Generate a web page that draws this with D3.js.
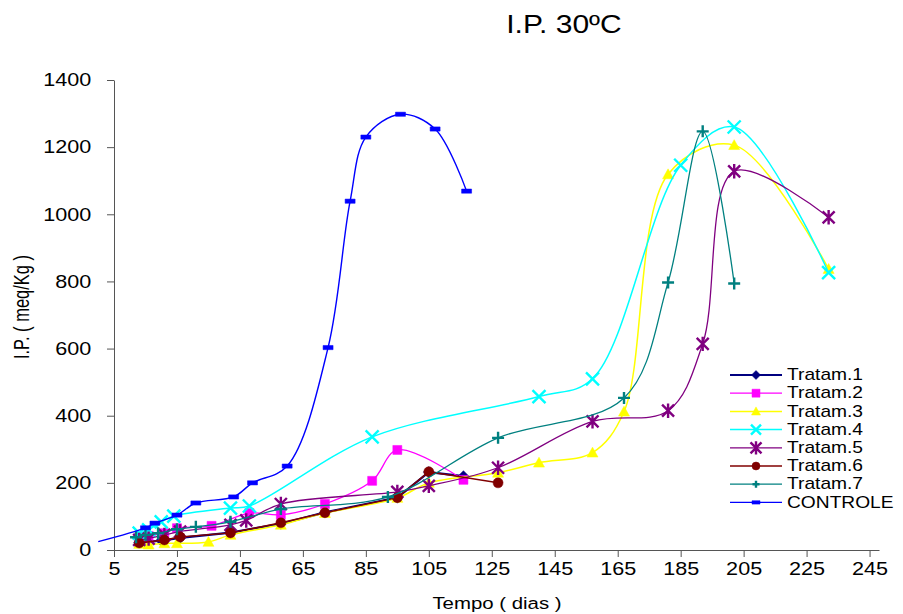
<!DOCTYPE html>
<html>
<head>
<meta charset="utf-8">
<script src="https://cdn.jsdelivr.net/npm/d3@7"></script>
<style>
    body { margin: 0; background: #fff; }
    text { font-family: "Liberation Sans", Arial, sans-serif; fill: #000; }
</style>
</head>
<body>
<div id="chart"></div>
<script>
// tick labels
const dayTicks = [5, 25, 45, 65, 85, 105, 125, 145, 165, 185, 205, 225, 245];
const ipTicks = [0, 200, 400, 600, 800, 1000, 1200, 1400];

// series values (day, I.P.)
const t1Days = [13, 20, 26, 42, 58, 72, 95, 105, 116];
const t1Vals = [22, 28, 36, 52, 78, 112, 156, 232, 220];
const t2Days = [13, 16, 21, 25, 36, 48, 58, 72, 87, 95, 116];
const t2Vals = [35, 42, 50, 65, 72, 110, 105, 137, 206, 298, 209];
const t3Days = [13, 16, 21, 25, 35, 42, 58, 72, 95, 105, 127, 140, 157, 167, 181, 202, 232];
const t3Vals = [18, 16, 20, 20, 24, 45, 75, 110, 155, 200, 230, 260, 290, 412, 1119, 1206, 837];
const t4Days = [13, 16, 20, 24, 42, 48, 87, 140, 157, 185, 202, 232];
const t4Vals = [50, 60, 84, 101, 125, 131, 337, 457, 510, 1146, 1260, 826];
const t5Days = [13, 16, 21, 26, 42, 47, 58, 95, 105, 127, 157, 181, 192, 202, 232];
const t5Vals = [30, 34, 45, 55, 75, 88, 137, 173, 191, 245, 383, 415, 614, 1128, 991];
const t6Days = [13, 21, 26, 42, 58, 72, 95, 105, 127];
const t6Vals = [21, 30, 39, 51, 81, 111, 156, 233, 200];
const t7Days = [12, 15, 19, 25, 31, 42, 58, 92, 127, 167, 181, 192, 202];
const t7Vals = [38, 45, 50, 62, 69, 84, 122, 158, 334, 453, 797, 1247, 794];
const ctDays = [0, 15, 18, 25, 31, 43, 49, 60, 73, 80, 85, 96, 107, 117];
const ctVals = [25, 66, 80, 104, 140, 158, 200, 250, 603, 1039, 1230, 1298, 1254, 1069];

const seriesNames = ["Tratam.1", "Tratam.2", "Tratam.3", "Tratam.4", "Tratam.5", "Tratam.6", "Tratam.7", "CONTROLE"];

const zip = (ds, vs) => ds.map((d, i) => ({ day: d, ip: vs[i] }));

const series = [
    { name: seriesNames[0], data: zip(t1Days, t1Vals), color: "#000080", marker: "diamond", smooth: false, lw: 2.2 },
    { name: seriesNames[1], data: zip(t2Days, t2Vals), color: "#ff00ff", marker: "square", smooth: true, lw: 1.3 },
    { name: seriesNames[2], data: zip(t3Days, t3Vals), color: "#ffff00", marker: "triangle", smooth: true, lw: 1.5 },
    { name: seriesNames[3], data: zip(t4Days, t4Vals), color: "#00ffff", marker: "x", smooth: true, lw: 1.5 },
    { name: seriesNames[4], data: zip(t5Days, t5Vals), color: "#800080", marker: "star", smooth: true, lw: 1.3 },
    { name: seriesNames[5], data: zip(t6Days, t6Vals), color: "#800000", marker: "circle", smooth: false, lw: 1.5 },
    { name: seriesNames[6], data: zip(t7Days, t7Vals), color: "#008080", marker: "plus", smooth: true, lw: 1.3 },
    { name: seriesNames[7], data: zip(ctDays, ctVals), color: "#0000ff", marker: "dash", smooth: true, lw: 1.4 }
];

const margin = { top: 80, right: 24, bottom: 64, left: 114 };
const width = 765;
const height = 470;
const sx = 1.2; // the original text is stretched sideways

const x = d3.scaleLinear().domain([5, 248]).range([0, width]);
const y = d3.scaleLinear().domain([0, 1400]).range([height, 0]);

const svg = d3.select("#chart").append("svg")
    .attr("width", 903)
    .attr("height", 614)
    .append("g")
    .attr("transform", "translate(" + margin.left + "," + margin.top + ")");

function markerPath(type, s) {
    switch (type) {
        case "diamond": return `M0,${-s}L${s},0L0,${s}L${-s},0Z`;
        case "square": return `M${-s},${-s}H${s}V${s}H${-s}Z`;
        case "triangle": return `M0,${-s}L${s},${s * 0.8}L${-s},${s * 0.8}Z`;
        case "circle": return `M${s},0A${s},${s} 0 1,1 ${-s},0A${s},${s} 0 1,1 ${s},0Z`;
        case "x": return `M${-s},${-s}L${s},${s}M${-s},${s}L${s},${-s}`;
        case "star": return `M${-s},${-s}L${s},${s}M${-s},${s}L${s},${-s}M0,${-s * 1.2}V${s * 1.2}`;
        case "plus": return `M${-s},0H${s}M0,${-s}V${s}`;
        case "dash": return `M${-s},${-s * 0.42}H${s}V${s * 0.42}H${-s}Z`;
    }
}
const strokeMarkers = ["x", "star", "plus"];
const markerSize = { diamond: 5.5, square: 4.5, triangle: 5.5, circle: 5, x: 6.5, star: 6, plus: 6, dash: 5 };
const legendSize = { diamond: 4.5, square: 4, triangle: 4.5, circle: 4, x: 5, star: 5.5, plus: 3.5, dash: 4 };

function styleMarker(sel, s) {
    const filled = !strokeMarkers.includes(s.marker);
    sel.attr("fill", filled ? s.color : "none")
        .attr("stroke", s.color)
        .attr("stroke-width", filled ? 0.5 : 2.4);
}

// X axis
svg.append("g")
    .attr("class", "x axis")
    .attr("transform", `translate(0,${height})`)
    .call(d3.axisBottom(x).tickValues(dayTicks).tickSize(7).tickSizeOuter(0).tickPadding(5))
    .call(g => g.selectAll("path, line").attr("stroke", "#555"))
    .call(g => g.selectAll("text")
        .attr("font-family", "Liberation Sans, Arial, sans-serif")
        .attr("font-size", 18)
        .attr("transform", `scale(${sx},1)`));

// Y axis
svg.append("g")
    .attr("class", "y axis")
    .call(d3.axisLeft(y).tickValues(ipTicks).tickFormat(d3.format("d")).tickSize(7).tickSizeOuter(0).tickPadding(12))
    .call(g => g.selectAll("path, line").attr("stroke", "#555"))
    .call(g => g.selectAll("text")
        .attr("font-family", "Liberation Sans, Arial, sans-serif")
        .attr("font-size", 18)
        .attr("transform", `scale(${sx},1)`));

// Lines and markers
series.forEach(s => {
    const line = d3.line()
        .x(d => x(d.day))
        .y(d => y(d.ip))
        .curve(s.smooth ? d3.curveCatmullRom.alpha(0.5) : d3.curveLinear);

    svg.append("path")
        .datum(s.data)
        .attr("fill", "none")
        .attr("stroke", s.color)
        .attr("stroke-width", s.lw)
        .attr("d", line);

    svg.append("g")
        .selectAll("path")
        .data(s.data.filter(d => d.day >= x.domain()[0]))
        .enter().append("path")
        .attr("transform", d => `translate(${x(d.day)},${y(d.ip)})`)
        .attr("d", markerPath(s.marker, markerSize[s.marker]))
        .call(styleMarker, s);
});

// Chart title
svg.append("text")
    .attr("transform", `translate(${564 - margin.left},${33 - margin.top}) scale(${sx},1)`)
    .attr("text-anchor", "middle")
    .style("font-size", "25px")
    .text("I.P. 30ºC");

// X axis title label
svg.append("text")
    .attr("transform", `translate(${497 - margin.left},${height + 59}) scale(${sx},1)`)
    .attr("text-anchor", "middle")
    .style("font-size", "17px")
    .text("Tempo ( dias )");

// Y axis title label
svg.append("text")
    .attr("transform", `translate(${21 - margin.left},${height / 2 - 8}) rotate(-90) scale(1,1.35)`)
    .attr("text-anchor", "middle")
    .attr("dy", "0.35em")
    .style("font-size", "16.5px")
    .text("I.P. ( meq/Kg )");

// Legend
const legend = svg.append("g")
    .attr("transform", `translate(${730 - margin.left},${375 - margin.top})`);

series.forEach((s, i) => {
    const row = legend.append("g").attr("transform", `translate(0,${i * 18.2})`);
    row.append("line")
        .attr("x1", 0).attr("x2", 52)
        .attr("stroke", s.color)
        .attr("stroke-width", s.lw);
    row.append("path")
        .attr("transform", "translate(26,0)")
        .attr("d", markerPath(s.marker, legendSize[s.marker]))
        .call(styleMarker, s);
    row.append("text")
        .attr("transform", `translate(57,0) scale(${sx},1)`)
        .attr("dy", "0.33em")
        .style("font-size", "16px")
        .text(s.name);
});
</script>
</body>
</html>
